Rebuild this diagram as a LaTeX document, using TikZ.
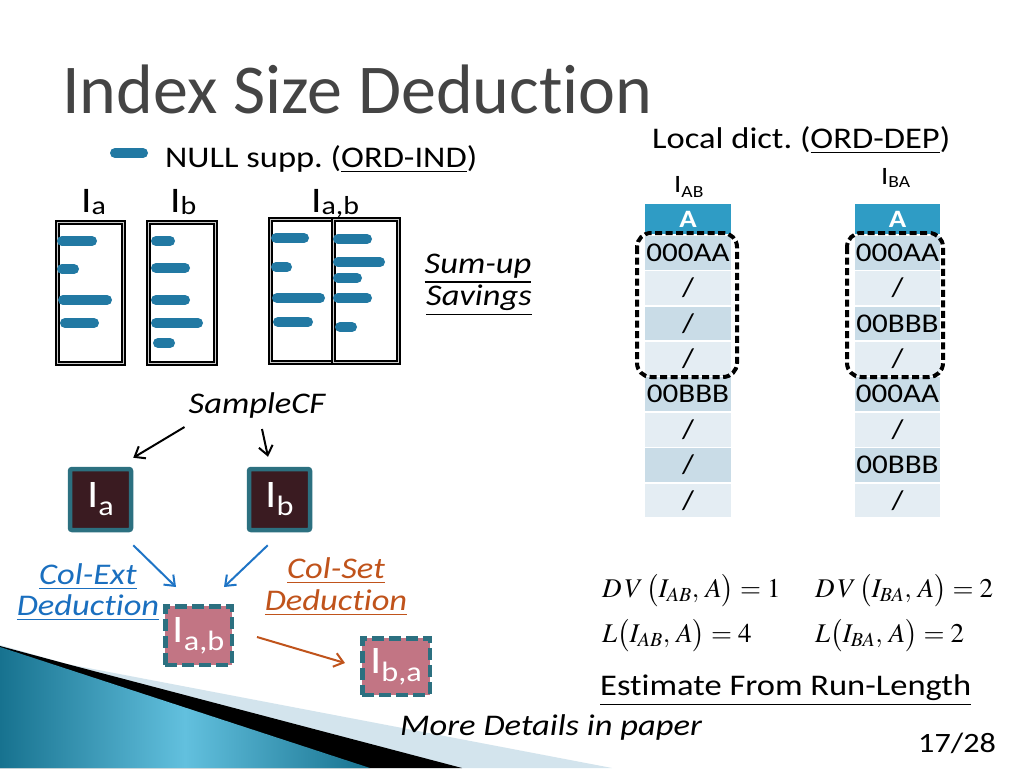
\documentclass[tikz,border=0pt]{standalone}
\usepackage{mathptmx}
\usepackage[no-math]{fontspec}
\setmainfont{Carlito}[FakeStretch=1.15,Ligatures=NoCommon]
\newfontfamily\titlefont{Carlito}[Ligatures=NoCommon]
\usetikzlibrary{arrows.meta}
\frenchspacing

\definecolor{titlegray}{HTML}{444444}
\definecolor{barblue}{HTML}{2279A3}
\definecolor{boxteal}{HTML}{2C7080}
\definecolor{boxdark}{HTML}{3A1B21}
\definecolor{boxpink}{HTML}{C27584}
\definecolor{headblue}{HTML}{2F9CC5}
\definecolor{row1}{HTML}{C9DCE7}
\definecolor{row0}{HTML}{E4EDF3}
\definecolor{extblue}{HTML}{1A6FBF}
\definecolor{setorange}{HTML}{C0531B}
\definecolor{arrowblue}{HTML}{1E74C6}
\definecolor{cornerdark}{HTML}{17728F}
\definecolor{cornerlight}{HTML}{62C0DE}
\definecolor{lightband}{HTML}{D3E4ED}

\newcommand{\isub}[3]{I\raisebox{-#2}{\fontsize{#1}{#1}\selectfont #3}}

\begin{document}
\begin{tikzpicture}[x=1pt,y=-1pt,
    txt/.style={inner sep=0pt,font=\fontsize{30}{32}\selectfont},
    txtit/.style={inner sep=0pt,font=\fontsize{30}{32}\selectfont\itshape},
    nullbar/.style={draw=barblue,line width=10pt,line cap=round},
    idxbox/.style={draw=black,line width=2pt,double=gray!40,double distance=1pt,inner sep=0pt},
    darkbox/.style={draw=boxteal,line width=4.5pt,fill=boxdark,rounded corners=2pt,minimum width=61pt,minimum height=61pt,inner sep=0pt,text=white,font=\fontsize{39}{39}\selectfont},
    pinkbox/.style={draw=boxteal,line width=4.5pt,dash pattern=on 12pt off 5pt,fill=boxpink,inner sep=0pt,text=white,font=\fontsize{39}{39}\selectfont},
    cell/.style={draw=white,line width=1.5pt,minimum width=88pt,minimum height=35.4pt,inner sep=0pt,font=\fontsize{27}{27}\selectfont},
    head/.style={cell,fill=headblue,minimum height=32pt,text=white,font=\fontsize{25}{25}\selectfont\bfseries},
    runbox/.style={draw=black,line width=4pt,dash pattern=on 7pt off 3.5pt,rounded corners=14pt},
    flow/.style={line width=2pt,-{Straight Barb[length=9pt,width=14pt]}},
    formula/.style={inner sep=0pt,anchor=base west,font=\fontsize{27}{27}\selectfont},
]
\useasboundingbox (0,0) rectangle (1024,768);
\fill[white] (0,0) rectangle (1024,768);

% corner decoration
\fill[lightband] (0,645) -- (67,664) -- (612,768) -- (0,768) -- cycle;
\fill[black] (0,646) -- (67,664) -- (462,768) -- (0,768) -- cycle;
\shade[left color=cornerdark,right color=cornerdark,middle color=cornerlight] (0,647) -- (370,768) -- (0,768) -- cycle;

\node[inner sep=0pt,anchor=base west,text=titlegray,font=\titlefont\fontsize{70}{70}\selectfont] (title) at (62,113) {Index Size Deduction};

% NULL suppression
\draw[nullbar] (115,153) -- (143,153);
\node[txt,anchor=base west] (legend) at (165,167) {NULL supp. (\underline{ORD-IND})};

\node[inner sep=0pt,anchor=base west,font=\fontsize{36}{36}\selectfont] (la) at (81,212) {\isub{26}{2pt}{a}};
\node[inner sep=0pt,anchor=base west,font=\fontsize{36}{36}\selectfont] (lb) at (170,212) {\isub{26}{2pt}{b}};
\node[inner sep=0pt,anchor=base west,font=\fontsize{36}{36}\selectfont] (lab) at (311,212) {\isub{26}{2pt}{a,b}};

\node[idxbox,minimum width=66pt,minimum height=141pt] (boxa) at (90,292.5) {};
\node[idxbox,minimum width=67pt,minimum height=141pt] (boxb) at (181.5,292.5) {};
\node[idxbox,minimum width=63pt,minimum height=143pt] (boxabl) at (301.5,290.5) {};
\node[idxbox,minimum width=65pt,minimum height=143pt] (boxabr) at (365.5,290.5) {};

\foreach \xa/\xb/\y in {62/92/241, 62/74/269, 63/107/300, 65/94/323,
    156/170/241, 156/185/268, 156/185/300, 156/198/323, 158/170/343,
    276/304/238, 276/287/267, 277/320/298, 278/308/322,
    338/367/239, 338/380/262, 338/357/278, 338/367/298, 340/352/327}
  \draw[nullbar] (\xa,\y) -- (\xb,\y);

\node[txtit,anchor=base] (sumup) at (478,273) {\underline{Sum-up}};
\node[txtit,anchor=base] (savings) at (479,305) {\underline{Savings}};

% sampling and deduction
\node[txtit,anchor=base] (sample) at (257,413) {SampleCF};
\node[darkbox] (da) at (100.5,499.5) {\isub{28}{8pt}{a}};
\node[darkbox] (db) at (279.5,499.5) {\isub{28}{8pt}{b}};
\node[pinkbox,minimum width=66.5pt,minimum height=58.5pt] (dab) at (198.5,635.5) {\isub{28}{8pt}{a,b}};
\node[pinkbox,minimum width=67.5pt,minimum height=56.5pt] (dba) at (396,666.5) {\isub{28}{8pt}{b,a}};

\draw[flow] ([xshift=-4pt,yshift=-9pt]sample.south west) -- ([yshift=9pt]da.north east);
\draw[flow] ([xshift=5pt,yshift=-11pt]sample.south) -- ([xshift=-11.5pt,yshift=10pt]db.north);
\draw[flow,arrowblue] ([yshift=-13pt]da.south east) -- ([xshift=13pt,yshift=17pt]dab.north west);
\draw[flow,arrowblue] ([xshift=21pt,yshift=-13pt]db.south west) -- ([xshift=-10pt,yshift=17pt]dab.north east);
\draw[flow,setorange] ([xshift=23pt,yshift=-1.5pt]dab.east) -- ([xshift=-15pt,yshift=3.5pt]dba.west);

\node[txtit,anchor=base,text=extblue] (colext) at (88,584) {\underline{Col-Ext}};
\node[txtit,anchor=base,text=extblue] (extded) at (88,615) {\underline{Deduction}};
\node[txtit,anchor=base,text=setorange] (colset) at (336,578) {\underline{Col-Set}};
\node[txtit,anchor=base,text=setorange] (setded) at (336,610) {\underline{Deduction}};

% local dictionary
\node[txt,anchor=base west] (local) at (652,148) {Local dict. (\underline{ORD-DEP})};
\node[inner sep=0pt,anchor=base west,font=\fontsize{25}{25}\selectfont] (lblab) at (674,192) {\isub{17}{5pt}{AB}};
\node[inner sep=0pt,anchor=base west,font=\fontsize{25}{25}\selectfont] (lblba) at (881,184) {\isub{17}{3pt}{BA}};

\node[head] (abh) at (688,219) {A};
\foreach \t [count=\i] in {000AA,\slash,\slash,\slash,00BBB,\slash,\slash,\slash} {
  \pgfmathtruncatemacro\r{mod(\i,2)}
  \node[cell,fill=row\r] (ab\i) at (688,{235+(\i-0.5)*35.4}) {\t};
}
\node[head,minimum width=87pt] (bah) at (897.5,219) {A};
\foreach \t [count=\i] in {000AA,\slash,00BBB,\slash,000AA,\slash,00BBB,\slash} {
  \pgfmathtruncatemacro\r{mod(\i,2)}
  \node[cell,minimum width=87pt,fill=row\r] (ba\i) at (897.5,{235+(\i-0.5)*35.4}) {\t};
}
\draw[runbox] (637,233) rectangle (737,377);
\draw[runbox] (847,233) rectangle (943,377);

% estimates
\node[formula] (dvab) at (602,597) {$D\mkern2mu V\,\bigl(I_{AB},\,A\bigr)=1$};
\node[formula] (dvba) at (815,597) {$D\mkern2mu V\,\bigl(I_{BA},\,A\bigr)=2$};
\node[formula] (lnab) at (602,642) {$L\bigl(I_{AB},\,A\bigr)=4$};
\node[formula] (lnba) at (815,642) {$L\bigl(I_{BA},\,A\bigr)=2$};

\node[txt,anchor=base west] (estimate) at (600,695) {\underline{Estimate From Run-Length}};
\node[txtit,anchor=base west] (more) at (400,735) {More Details in paper};
\node[inner sep=0pt,anchor=base west,font=\fontsize{28}{28}\selectfont] (page) at (918,752) {17/28};
\end{tikzpicture}
\end{document}
